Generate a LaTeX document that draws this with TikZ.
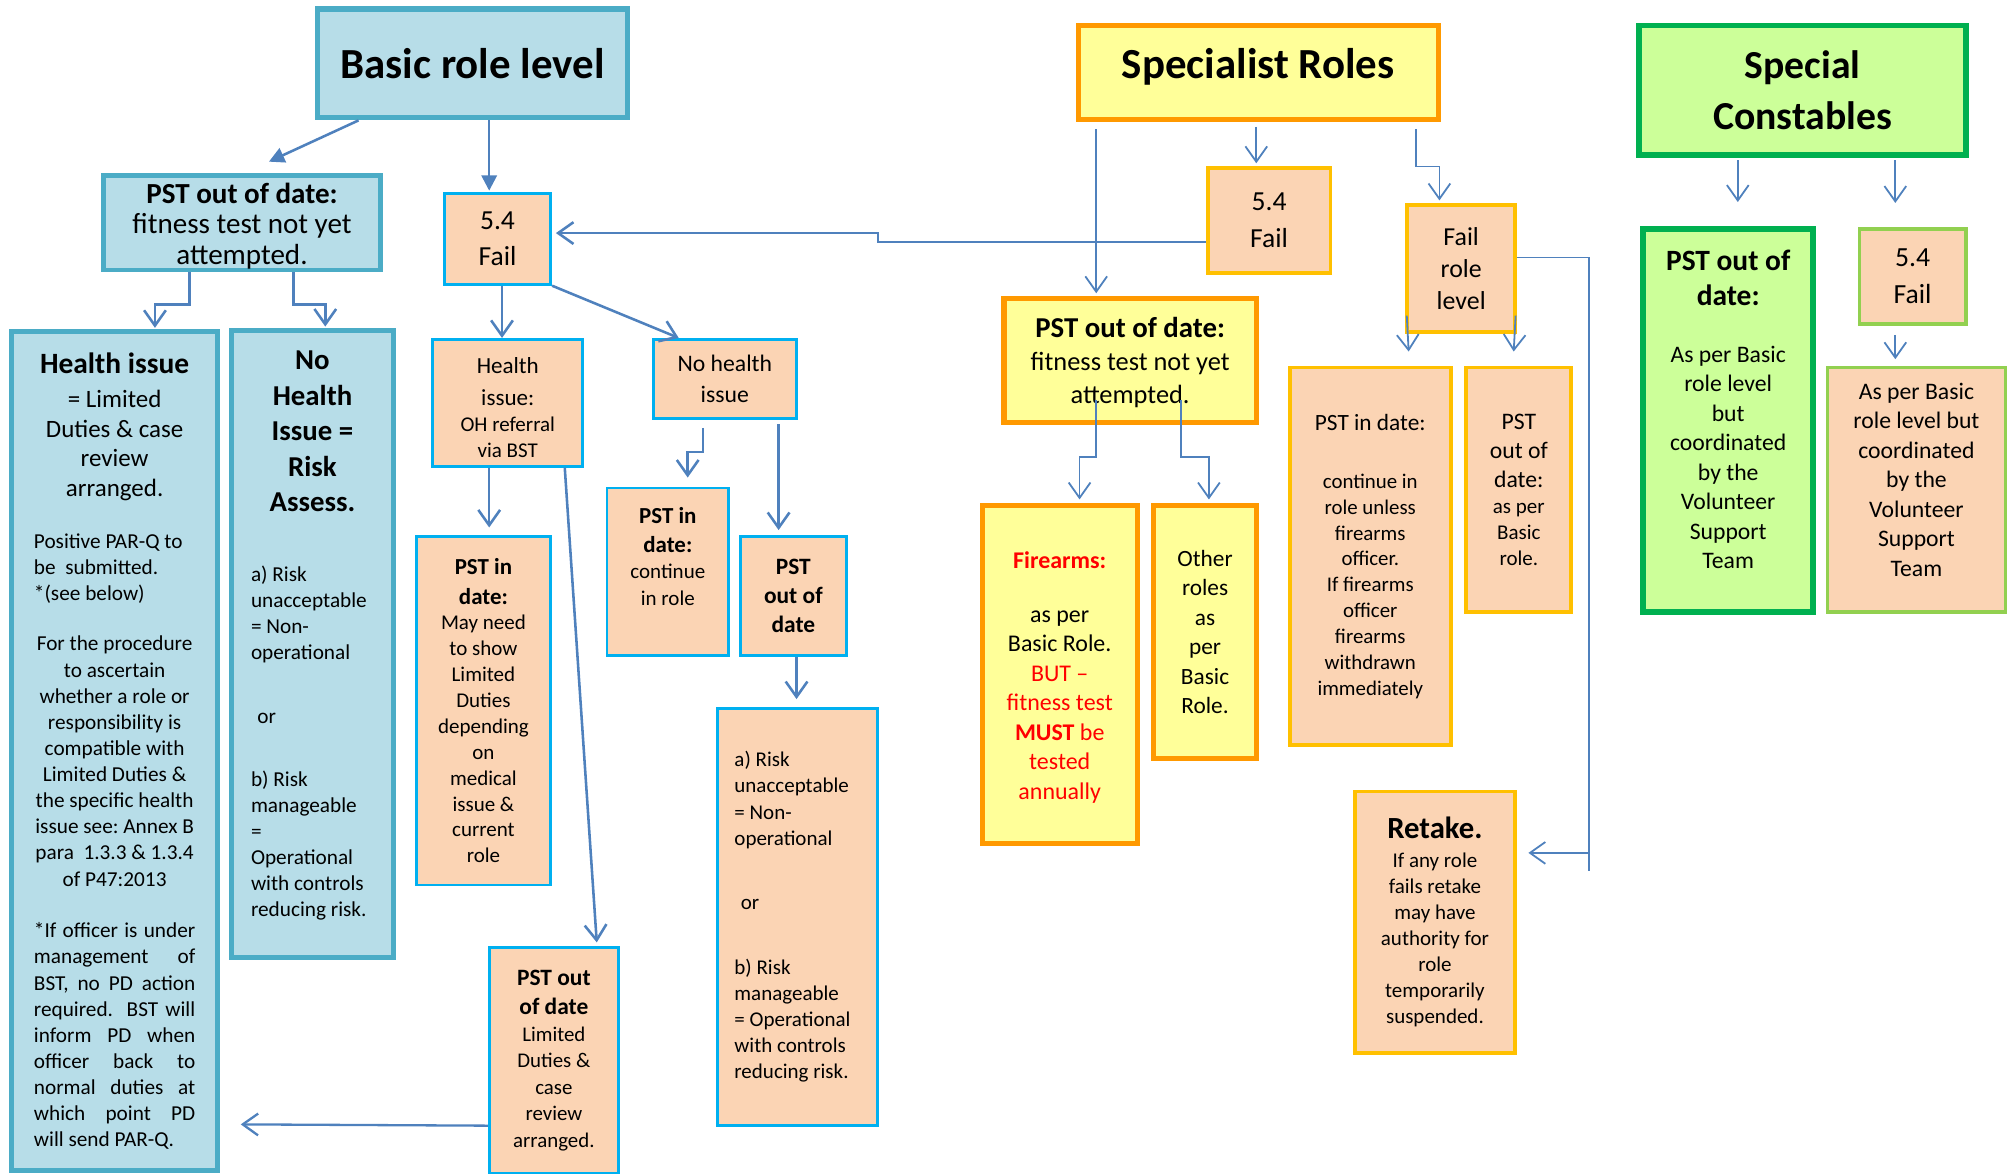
\documentclass[tikz,border=0pt]{standalone}
\usepackage{fontspec}
\setmainfont{Carlito}
\usetikzlibrary{arrows.meta}
\definecolor{arrowblue}{HTML}{4F81BD}
\definecolor{basicfill}{HTML}{B7DDE8}
\definecolor{basicline}{HTML}{4BACC6}
\definecolor{peach}{HTML}{FBD4B4}
\definecolor{cyanline}{HTML}{00B0F0}
\definecolor{specfill}{HTML}{FFFF99}
\definecolor{specline}{HTML}{FF9900}
\definecolor{goldline}{HTML}{FFC000}
\definecolor{constfill}{HTML}{CCFF99}
\definecolor{constline}{HTML}{00B050}
\definecolor{limeline}{HTML}{92D050}
\newcommand{\fsz}[2]{\fontsize{#1}{#2}\selectfont\spaceskip=\fontdimen2\font\xspaceskip=\fontdimen2\font}

\begin{document}
\begin{tikzpicture}[x=1pt,y=-1pt,
  cell/.style n args={3}{minimum width=#1pt,minimum height=#2pt,text width=#3pt,inner sep=0pt,align=center},
  basicbox/.style={rectangle,fill=basicfill,draw=basicline,line width=4pt},
  basicsub/.style={rectangle,fill=peach,draw=cyanline,line width=2.2pt},
  specbig/.style={rectangle,fill=specfill,draw=specline,line width=4pt},
  specsub/.style={rectangle,fill=peach,draw=goldline,line width=3pt},
  constbig/.style={rectangle,fill=constfill,draw=constline,line width=4.5pt},
  constsub/.style={rectangle,fill=peach,draw=limeline,line width=3pt},
  link/.style={draw=arrowblue,line width=2pt},
  thinlink/.style={draw=arrowblue,line width=1.4pt},
  solidhead/.style={-{Triangle[length=12pt,width=12pt]}},
  vhead/.style={-{Straight Barb[length=12pt,width=17pt]}}]
  \useasboundingbox (0,0) rectangle (1568,917);

  % basic role level
  \node[basicbox,cell={242}{85}{236}] (basic) at (369,49.5) {{\fsz{33.5}{40}\bfseries Basic role level\par}};
  \node[basicbox,line width=3.5pt,cell={216}{74}{210}] (pstL) at (189,174)
    {\vskip-3pt{\fsz{22.7}{24}\textbf{PST out of date:}\\fitness test not yet\\attempted.\par}};
  \node[basicsub,cell={83}{71}{78}] (failL) at (388.5,186.5) {{\fsz{21.5}{28}5.4\\Fail\par}};
  \node[basicbox,cell={161}{655}{126}] (healthL) at (89.5,586.5) {%
    {\fsz{23}{27}\bfseries Health issue\par}\vskip4pt
    {\fsz{19.5}{23}= Limited\\Duties \& case\\review\\arranged.\par}\vskip20pt
    {\raggedright\fsz{16.6}{20.5}Positive PAR-Q to\\be~ submitted.\\{}*(see below)\par}\vskip19pt
    {\fsz{16.6}{20.4}For the procedure\\to ascertain\\whether a role or\\responsibility is\\compatible with\\Limited Duties \&\\the specific health\\issue see: Annex B\\para~ 1.3.3 \& 1.3.4\\of P47:2013\par}\vskip20pt
    {\fsz{16.6}{20.4}\spaceskip=0pt\xspaceskip=0pt
     \makebox[\hsize][s]{*If officer is under}\\
     \makebox[\hsize][s]{management of}\\
     \makebox[\hsize][s]{BST, no PD action}\\
     \makebox[\hsize][s]{required. BST will}\\
     \makebox[\hsize][s]{inform PD when}\\
     \makebox[\hsize][s]{officer back to}\\
     \makebox[\hsize][s]{normal duties at}\\
     \makebox[\hsize][s]{which point PD}\\
     \makebox[\hsize][l]{will send PAR-Q.}\par}};
  \node[basicbox,cell={126}{490}{96}] (nohealthL) at (244,503) {%
    \vskip-26pt{\fsz{22.5}{27.7}\bfseries No\\Health\\Issue =\\Risk\\Assess.\par}\vskip34pt
    {\raggedright\fsz{16.6}{20.3}a) Risk\\unacceptable\\= Non-\\operational\par
     \vskip30pt\hspace*{5pt}or\par\vskip29pt
     b) Risk\\manageable\\=\\Operational\\with controls\\reducing risk.\par}};
  \node[basicsub,cell={117}{99}{112}] (ohref) at (396.5,314.5)
    {\vskip-5pt{\fsz{18}{25}Health\\issue:\par}{\fsz{16.4}{20}OH referral\\via BST\par}};
  \node[basicsub,cell={112}{62}{106}] (nohi) at (566,296) {{\fsz{18.5}{24}No health\\issue\par}};
  \node[basicsub,cell={105}{272}{100}] (indateA) at (377.5,555)
    {{\fsz{17.9}{23}\bfseries PST in\\date:\par}{\fsz{16.4}{20.2}May need\\to show\\Limited\\Duties\\depending\\on\\medical\\issue \&\\current\\role\par}};
  \node[basicsub,cell={95}{131}{90}] (indateB) at (521.5,446.5)
    {\vskip-35pt{\fsz{17.9}{23}\bfseries PST in\\date:\par}{\fsz{16.4}{20.5}continue\\in role\par}};
  \node[basicsub,cell={83}{93}{78}] (outdateB) at (619.5,465.5) {{\fsz{18.3}{22.5}\bfseries PST\\out of\\date\par}};
  \node[basicsub,cell={125}{326}{98}] (riskB) at (622.5,716) {%
    {\raggedright\fsz{16.4}{20.4}a) Risk\\unacceptable\\= Non-\\operational\par
     \vskip30pt\hspace*{5pt}or\par\vskip30pt
     b) Risk\\manageable\\= Operational\\with controls\\reducing risk.\par}};
  \node[basicsub,cell={101}{176}{96}] (outdateA) at (432.5,828)
    {{\fsz{18.3}{23}\bfseries PST out\\of date\par}{\fsz{16.3}{20.7}Limited\\Duties \&\\case\\review\\arranged.\par}};

  % specialist roles
  \node[specbig,cell={281}{73}{275}] (spec) at (982.5,56.5) {\vskip-25pt{\fsz{33.5}{40}\bfseries Specialist Roles\par}};
  \node[specsub,cell={96}{82}{90}] (failS) at (991,172) {{\fsz{21.5}{29}5.4\\Fail\par}};
  \node[specsub,cell={84}{99}{78}] (failrole) at (1141,209.5) {{\fsz{20.2}{25}Fail\\role\\level\par}};
  \node[specbig,cell={197}{97}{191}] (pstS) at (882.5,281.5)
    {\vskip-7pt{\fsz{22.5}{26}\bfseries PST out of date:\par}{\fsz{20.6}{26}fitness test not yet\\attempted.\par}};
  \node[specbig,cell={121}{264}{115}] (firearms) at (827.5,527) {%
    \vskip-6pt{\fsz{18.7}{23}\color{red}\bfseries Firearms:\par}\vskip19pt
    {\fsz{18.7}{23}as per\\Basic Role.\\{\color{red}BUT --\\fitness test\\\textbf{MUST} be\\tested\\annually}\par}};
  \node[specbig,cell={80}{197}{74}] (other) at (941,493.5) {{\fsz{18.2}{23}Other\\roles\\as\\per\\Basic\\Role.\par}};
  \node[specsub,cell={126}{295}{120}] (indateS) at (1070,434.5)
    {{\fsz{18.2}{22}PST in date:\par}\vskip25pt
     {\fsz{16.3}{20.2}continue in\\role unless\\firearms\\officer.\\If firearms\\officer\\firearms\\withdrawn\\immediately\par}};
  \node[specsub,cell={82}{191}{76}] (outdateS) at (1186,382.5)
    {{\fsz{18.5}{22.8}PST\\out of\\date:\par}{\fsz{16.4}{20.3}as per\\Basic\\role.\par}};
  \node[specsub,cell={125}{204}{119}] (retake) at (1120.5,720)
    {{\fsz{24}{26}\bfseries Retake.\par}\vskip2pt
     {\fsz{16.4}{20.4}If any role\\fails retake\\may have\\authority for\\role\\temporarily\\suspended.\par}};

  % special constables
  \node[constbig,cell={255}{101}{249}] (const) at (1407.5,70.5) {{\fsz{31}{40}\bfseries Special\\Constables\par}};
  \node[constbig,cell={133}{299}{127}] (pstC) at (1349.5,328.5)
    {\vskip-30pt{\fsz{23}{28}\bfseries PST out of\\date:\par}\vskip21pt
     {\fsz{18.5}{23}As per Basic\\role level\\but\\coordinated\\by the\\Volunteer\\Support\\Team\par}};
  \node[constsub,cell={83}{74}{78}] (failC) at (1493.5,216) {{\fsz{21.6}{29}5.4\\Fail\par}};
  \node[constsub,cell={139}{191}{133}] (asperC) at (1496.5,382.5)
    {\vskip-26pt{\fsz{18.5}{23}As per Basic\\role level but\\coordinated\\by the\\Volunteer\\Support\\Team\par}};

  % connectors, basic side
  \draw[link,solidhead] ([xshift=-89pt]basic.south) -- ([xshift=21pt,yshift=9pt]pstL.north);
  \draw[link,solidhead] ([xshift=13pt]basic.south) -- ([xshift=-6.5pt,yshift=1pt]failL.north);
  \draw[link,vhead] ([xshift=-41pt]pstL.south) -- ++(0,25) -| ([xshift=31.5pt,yshift=1pt]healthL.north);
  \draw[link,vhead] ([xshift=40pt]pstL.south) -- ++(0,25) -| ([xshift=10pt,yshift=1pt]nohealthL.north);
  \draw[link,vhead] ([xshift=3.5pt]failL.south) -- ([xshift=-4.5pt]ohref.north);
  \draw[link,vhead] (failL.south east) -- ([xshift=-36pt]nohi.north);
  \draw[link,vhead] ([xshift=-14.5pt]ohref.south) -- ([xshift=4.5pt,yshift=6pt]indateA.north);
  \draw[link,vhead] ([xshift=44.5pt]ohref.south) -- ([xshift=33.5pt,yshift=3pt]outdateA.north);
  \draw[link,vhead] ([xshift=-17pt,yshift=-6pt]nohi.south) -- ++(0,19) -| ([xshift=15.5pt,yshift=7pt]indateB.north);
  \draw[link,vhead] ([xshift=42pt,yshift=-3pt]nohi.south) -- ([xshift=-11.5pt,yshift=4pt]outdateB.north);
  \draw[link,vhead] ([xshift=2.5pt]outdateB.south) -- ([xshift=-0.5pt,yshift=6pt]riskB.north);
  \draw[link,vhead,line width=1.8pt] ([yshift=-51pt]outdateA.west) -- ([xshift=16pt,yshift=-291.5pt]healthL.east);
  \draw[link,vhead] ([yshift=-17pt]failS.west) -- ++(-256,0) |- ([xshift=3pt,yshift=4.5pt]failL.east);

  % connectors, specialist side
  \draw[thinlink,vhead] ([xshift=-126.5pt,yshift=-6pt]spec.south) -- ([xshift=-26.5pt,yshift=2pt]pstS.north);
  \draw[thinlink,vhead] ([xshift=-1.5pt,yshift=-4pt]spec.south) -- ([xshift=-10pt,yshift=2pt]failS.north);
  \draw[thinlink,vhead] ([xshift=123.5pt,yshift=-6pt]spec.south) -- ++(0,29) -| ([xshift=-17pt,yshift=2pt]failrole.north);
  \draw[thinlink,vhead] ([xshift=1pt,yshift=14pt]failrole.south west) -- ([xshift=30pt,yshift=11pt]indateS.north);
  \draw[thinlink,vhead] ([xshift=-1pt,yshift=14pt]failrole.south east) -- ([xshift=-4pt,yshift=11pt]outdateS.north);
  \draw[thinlink] ([yshift=8.5pt]failrole.east) -| ([xshift=56pt,yshift=40pt]retake.east);
  \draw[thinlink,vhead] ([xshift=56pt,yshift=54pt]retake.east) -- ([xshift=9pt,yshift=54pt]retake.east);
  \draw[thinlink,vhead] ([xshift=-26.5pt,yshift=20pt]pstS.south) -- ++(0,45) -| ([xshift=15.5pt,yshift=3pt]firearms.north);
  \draw[thinlink,vhead] ([xshift=39.5pt,yshift=20pt]pstS.south) -- ++(0,45) -| ([xshift=3pt,yshift=3pt]other.north);

  % connectors, special constables
  \draw[thinlink,vhead] ([xshift=-50.5pt,yshift=-2pt]const.south) -- ([xshift=7.5pt,yshift=19pt]pstC.north);
  \draw[thinlink,vhead] ([xshift=72.5pt,yshift=-2pt]const.south) -- ([xshift=-13.5pt,yshift=19pt]failC.north);
  \draw[thinlink,vhead] ([xshift=-13.5pt,yshift=-7pt]failC.south) -- ([xshift=-16.5pt,yshift=5pt]asperC.north);
\end{tikzpicture}
\end{document}
